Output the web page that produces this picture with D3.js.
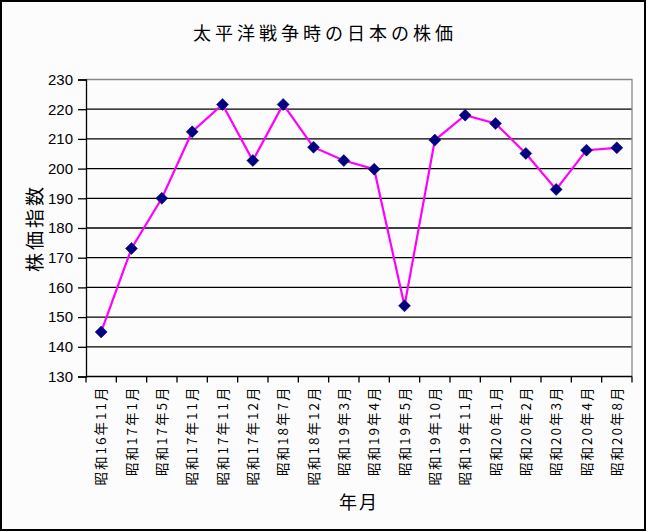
<!DOCTYPE html>
<html>
<head>
<meta charset="utf-8">
<script src="https://cdn.jsdelivr.net/npm/d3@7"></script>
<style>
  body { margin: 0; background: #fff; }
  svg { display: block; }
</style>
</head>
<body>
<div id="chart"></div>
<script>
// 年月 and 株価指数
var months = ["昭和16年11月", "昭和17年1月", "昭和17年5月", "昭和17年11月", "昭和17年11月",
    "昭和17年12月", "昭和18年7月", "昭和18年12月", "昭和19年3月", "昭和19年4月",
    "昭和19年5月", "昭和19年10月", "昭和19年11月", "昭和20年1月", "昭和20年2月",
    "昭和20年3月", "昭和20年4月", "昭和20年8月"];
var prices = [145.0, 173.1, 190.0, 212.4, 221.6, 202.7, 221.6, 207.2, 202.7, 199.8,
    153.8, 209.6, 218.0, 215.2, 205.1, 193.0, 206.2, 207.0];
var yTicks = [130, 140, 150, 160, 170, 180, 190, 200, 210, 220, 230];

var W = 648, H = 532;
var margin = { top: 79.5, right: 16, bottom: 155.5, left: 86 },
    width = W - margin.left - margin.right,
    height = H - margin.top - margin.bottom;

var font = "'Noto Sans CJK JP', 'DejaVu Sans', sans-serif";

var svg = d3.select("#chart")
    .append("svg")
    .attr("width", W)
    .attr("height", H);

svg.append("rect")
    .attr("x", 1).attr("y", 1)
    .attr("width", W - 4).attr("height", H - 3)
    .attr("fill", "#fcfcfc")
    .attr("stroke", "#000")
    .attr("stroke-width", 2);

svg.append("text")
    .attr("x", 325)
    .attr("y", 40)
    .attr("text-anchor", "middle")
    .style("font-family", font)
    .style("font-size", "18px")
    .style("letter-spacing", "4px")
    .text("太平洋戦争時の日本の株価");

var g = svg.append("g")
    .attr("transform", "translate(" + margin.left + "," + margin.top + ")");

var x = d3.scaleBand()
    .domain(d3.range(months.length))
    .range([0, width]);

var y = d3.scaleLinear()
    .domain([130, 230])
    .range([height, 0]);

// grid lines
g.selectAll(".grid")
    .data(yTicks.filter(function (d) { return d > 130 && d < 230; }))
    .enter().append("line")
    .attr("x1", 0).attr("x2", width)
    .attr("y1", function (d) { return y(d); })
    .attr("y2", function (d) { return y(d); })
    .attr("stroke", "#000")
    .attr("stroke-width", 1.3);

// plot border top/right in gray
g.append("path")
    .attr("d", "M0," + y(230) + "H" + width + "V" + height)
    .attr("fill", "none")
    .attr("stroke", "#888")
    .attr("stroke-width", 1.3);

// y axis
var yAxis = g.append("g")
    .call(d3.axisLeft(y).tickValues(yTicks).tickSize(8).tickPadding(5));
yAxis.select(".domain").attr("stroke", "#000").attr("stroke-width", 1.3);
yAxis.selectAll(".tick line").attr("stroke-width", 1.3);
yAxis.selectAll("text")
    .style("font-family", "'Liberation Sans', Arial, sans-serif")
    .style("font-size", "15px")
    .attr("fill", "#000");

// x axis: ticks at category boundaries
var xAxisG = g.append("g")
    .attr("transform", "translate(0," + height + ")");
xAxisG.append("line")
    .attr("x1", 0).attr("x2", width)
    .attr("stroke", "#000")
    .attr("stroke-width", 1.3);
xAxisG.selectAll(".xtick")
    .data(d3.range(months.length + 1))
    .enter().append("line")
    .attr("x1", function (i) { return i * x.step(); })
    .attr("x2", function (i) { return i * x.step(); })
    .attr("y1", 0).attr("y2", 6)
    .attr("stroke", "#000")
    .attr("stroke-width", 1.3);
xAxisG.selectAll(".xlabel")
    .data(months)
    .enter().append("text")
    .attr("transform", function (d, i) {
        return "translate(" + (x(i) + x.bandwidth() / 2 + 5) + ",9) rotate(-90)";
    })
    .attr("text-anchor", "end")
    .style("font-family", font)
    .style("font-size", "13.5px")
    .style("letter-spacing", "2px")
    .text(function (d) { return d; });

// axis titles
svg.append("text")
    .attr("transform", "translate(42,228) rotate(-90)")
    .attr("text-anchor", "middle")
    .style("font-family", font)
    .style("font-size", "19px")
    .style("letter-spacing", "3px")
    .text("株価指数");

svg.append("text")
    .attr("x", 359)
    .attr("y", 509)
    .attr("text-anchor", "middle")
    .style("font-family", font)
    .style("font-size", "18px")
    .style("letter-spacing", "2px")
    .text("年月");

// line
var line = d3.line()
    .x(function (d, i) { return x(i) + x.bandwidth() / 2; })
    .y(function (d) { return y(d); });

g.append("path")
    .datum(prices)
    .attr("fill", "none")
    .attr("stroke", "#ff00ff")
    .attr("stroke-width", 2.2)
    .attr("d", line);

// diamond markers
g.selectAll(".pt")
    .data(prices)
    .enter().append("path")
    .attr("transform", function (d, i) {
        return "translate(" + (x(i) + x.bandwidth() / 2) + "," + y(d) + ")";
    })
    .attr("d", "M0,-6L6,0L0,6L-6,0Z")
    .attr("fill", "#000080")
    .attr("stroke", "#000060")
    .attr("stroke-width", 0.5);
</script>
</body>
</html>
